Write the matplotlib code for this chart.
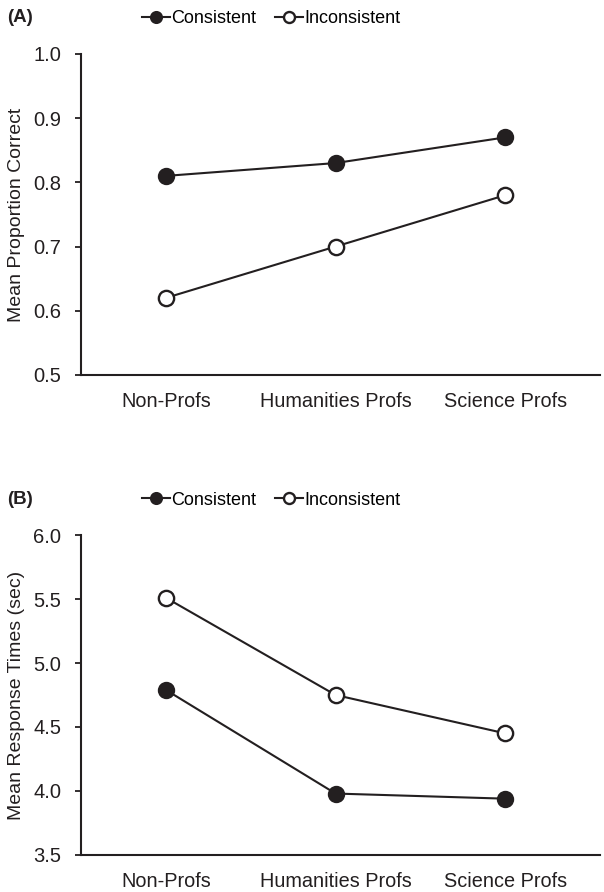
import matplotlib.pyplot as plt

plt.rcParams['font.family'] = ['Liberation Sans', 'DejaVu Sans']

groups = ["Non-Profs", "Humanities Profs", "Science Profs"]
acc_consistent = [0.81, 0.83, 0.87]
acc_inconsistent = [0.62, 0.70, 0.78]
rt_consistent = [4.79, 3.98, 3.94]
rt_inconsistent = [5.51, 4.75, 4.45]

ink = "#231f20"
fig = plt.figure(figsize=(6.04, 8.92), dpi=100)
ax_a = fig.add_axes([0.134, 0.5796, 0.86, 0.36])
ax_b = fig.add_axes([0.134, 0.0415, 0.86, 0.3587])

panels = [
    (ax_a, acc_consistent, acc_inconsistent, "Mean Proportion Correct",
     (0.5, 1.0), [0.5, 0.6, 0.7, 0.8, 0.9, 1.0], "(A)", 18),
    (ax_b, rt_consistent, rt_inconsistent, "Mean Response Times (sec)",
     (3.5, 6.0), [3.5, 4.0, 4.5, 5.0, 5.5, 6.0], "(B)", 500),
]

x = range(len(groups))
for ax, cons, incons, ylab, ylim, yticks, tag, tag_y in panels:
    ax.plot(x, cons, color=ink, lw=1.5, marker="o", ms=11,
            mfc=ink, mec=ink, mew=1.5, label="Consistent")
    ax.plot(x, incons, color=ink, lw=1.5, marker="o", ms=11,
            mfc="white", mec=ink, mew=1.7, label="Inconsistent")
    ax.set_xlim(-0.5, 2.56)
    ax.set_ylim(*ylim)
    ax.set_yticks(yticks)
    ax.set_yticklabels(["{:.1f}".format(t) for t in yticks])
    ax.set_xticks(list(x))
    ax.set_xticklabels(groups)
    ax.tick_params(axis="x", length=0, pad=12, labelsize=14.3, colors=ink)
    ax.tick_params(axis="y", length=4, width=1.3, direction="out", labelsize=14.5,
                   colors=ink, pad=10)
    for s in ["top", "right"]:
        ax.spines[s].set_visible(False)
    for s in ["left", "bottom"]:
        ax.spines[s].set_linewidth(1.5)
        ax.spines[s].set_color(ink)
    ax.set_ylabel(ylab, fontsize=14, color=ink, labelpad=6)
    ax.legend(loc="center", bbox_to_anchor=(0.366, 1 + 35 / 321), ncol=2, frameon=False,
              fontsize=13, handlelength=1.55, handletextpad=0.08, columnspacing=1.05,
              markerscale=0.72, borderaxespad=0, borderpad=0)
    fig.text(20 / 604, 1 - tag_y / 892, tag, fontsize=13.5, fontweight="bold",
             ha="center", va="center", color=ink)

fig.savefig("out.png", dpi=100)
